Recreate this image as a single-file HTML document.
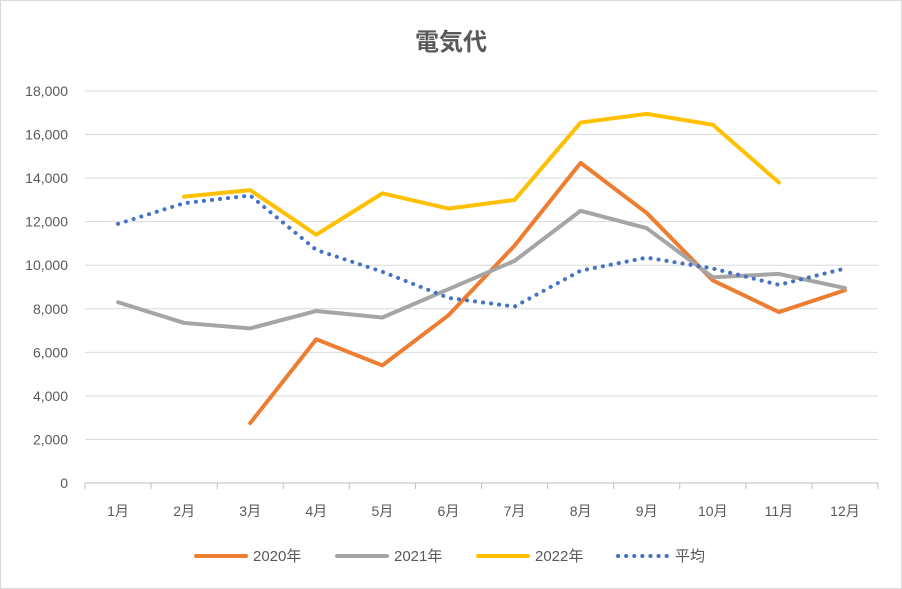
<!DOCTYPE html>
<html><head><meta charset="utf-8"><style>
body{margin:0;background:#fff;}
svg{display:block;font-family:"Liberation Sans","Noto Sans CJK JP",sans-serif;}
</style></head><body>
<svg id="chart" width="902" height="589">
<rect x="0.5" y="0.5" width="901" height="588" fill="#fff" stroke="#d9d9d9"/>
<text x="451" y="50" text-anchor="middle" font-size="24" font-weight="bold" fill="#595959">電気代</text>
<g id="grid"></g><g id="series"></g><g id="legend"></g>
</svg>
<script>
const categories=["1月","2月","3月","4月","5月","6月","7月","8月","9月","10月","11月","12月"];
const yTicks=[0,2000,4000,6000,8000,10000,12000,14000,16000,18000];
const s2020=[null,null,2750,6600,5400,7700,10900,14700,12400,9300,7850,8850];
const s2021=[8300,7350,7100,7900,7600,8900,10200,12500,11700,9450,9600,8950];
const s2022=[null,13150,13450,11400,13300,12600,13000,16550,16950,16450,13800,null];
const sAvg=[11900,12850,13200,10700,9700,8500,8100,9750,10350,9850,9100,9850];
const seriesNames=["2020年","2021年","2022年","平均"];
const NS="http://www.w3.org/2000/svg";
const x0=85,x1=878,y0=483,y1=91;
const bw=(x1-x0)/categories.length;
const xs=i=>x0+bw*(i+0.5);
const ys=v=>y0-(v/18000)*(y0-y1);
function mk(tag,attrs,parent){const e=document.createElementNS(NS,tag);for(const k in attrs)e.setAttribute(k,attrs[k]);parent.appendChild(e);return e;}
const grid=document.getElementById('grid');
yTicks.forEach(v=>{
 const l=mk('line',{x1:x0,x2:x1,y1:ys(v),y2:ys(v),stroke:v===0?'#bfbfbf':'#d9d9d9','stroke-width':1},grid);
 
 
 const t=mk('text',{x:68,y:ys(v)+5,'text-anchor':'end','font-size':14,fill:'#595959'},grid);
 t.textContent=v.toLocaleString('en-US');
 
 
});
categories.forEach((c,i)=>{
 const tk=mk('line',{x1:x0+bw*i,x2:x0+bw*i,y1:y0,y2:y0+6,stroke:'#bfbfbf'},grid);
 
 
 const t=mk('text',{x:xs(i),y:516,'text-anchor':'middle','font-size':14,fill:'#595959'},grid);
 t.textContent=c;
 
 
});
mk('line',{x1:x1,x2:x1,y1:y0,y2:y0+6,stroke:'#bfbfbf'},grid);
const styles=[{d:s2020,c:'#ed7d31',dash:null,n:'line-2020'},{d:s2021,c:'#a5a5a5',dash:null,n:'line-2021'},{d:s2022,c:'#ffc000',dash:null,n:'line-2022'},{d:sAvg,c:'#4472c4',dash:'0.1 8',n:'line-average'}];
const sg=document.getElementById('series');
styles.forEach(s=>{
 let d='';s.d.forEach((v,i)=>{if(v==null)return;d+=(d?'L':'M')+xs(i)+' '+ys(v);});
 const p=mk('path',{d:d,fill:'none',stroke:s.c,'stroke-width':4,'stroke-linejoin':'round','stroke-linecap':'round'},sg);
 if(s.dash)p.setAttribute('stroke-dasharray',s.dash);
 
 
});
const lg=document.getElementById('legend');
const lx=[196,337,478,618];
styles.forEach((s,i)=>{
 const l=mk('line',{x1:lx[i],x2:lx[i]+50,y1:556,y2:556,stroke:s.c,'stroke-width':4,'stroke-linecap':'round'},lg);
 if(s.dash)l.setAttribute('stroke-dasharray',s.dash);
 
 
 const t=mk('text',{x:lx[i]+57,y:561,'font-size':15,fill:'#595959'},lg);
 t.textContent=seriesNames[i];
 
 
});
</script>
</body></html>
